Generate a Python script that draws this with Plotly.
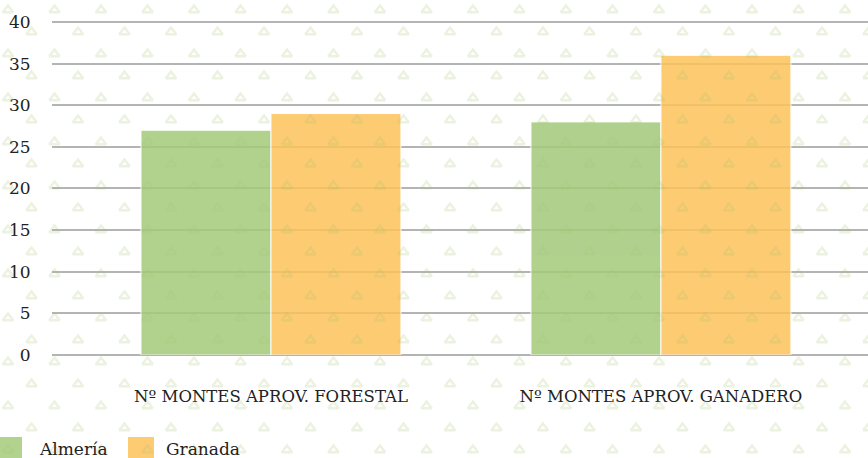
import plotly.graph_objects as go
import numpy as np

# ---- data ----
categories = ["Nº MONTES APROV. FORESTAL", "Nº MONTES APROV. GANADERO"]
series_names = ["Almería", "Granada"]
almeria = [27, 28]
granada = [29, 36]
y_ticks = [0, 5, 10, 15, 20, 25, 30, 35, 40]

colors = ["rgb(164,203,121)", "rgb(253,194,89)"]
bar_opacity = 0.85
FONT = "DejaVu Serif"
W, H = 868, 458

fig = go.Figure()

# bars (main subplot)
for name, vals, col in zip(series_names, [almeria, granada], colors):
    fig.add_trace(go.Bar(
        x=categories, y=vals, name=name,
        marker=dict(color=col, line=dict(color="white", width=1)),
        opacity=bar_opacity, xaxis="x", yaxis="y", showlegend=False,
    ))

# decorative background pattern (texture, drawn in pixel space on top)
px, py = [], []
for r in range(22):
    yy = 10 + 22 * r
    off = 8 if r % 2 == 0 else 31.5
    for k in range(-1, 20):
        px.append(off + 46.5 * k)
        py.append(yy)
fig.add_trace(go.Scatter(
    x=px, y=py, mode="markers", xaxis="x2", yaxis="y2",
    marker=dict(symbol="triangle-up-open", size=9,
                color="rgba(165,198,115,0.22)", line=dict(width=2.4)),
    hoverinfo="skip", showlegend=False,
))

# legend (custom large swatches)
leg_x = [-4, 128]
text_x = [37, 164]
for name, col, x0, tx in zip(series_names, colors, leg_x, text_x):
    fig.add_shape(type="rect", xref="paper", yref="paper",
                  x0=x0 / W, x1=(x0 + 26) / W, y0=(H - 463) / H, y1=(H - 437) / H,
                  fillcolor=col, opacity=bar_opacity, line=dict(width=0), layer="below")
    fig.add_annotation(text=name, xref="paper", yref="paper",
                       x=tx / W, y=(H - 449) / H, xanchor="left", yanchor="middle",
                       showarrow=False, font=dict(family=FONT, size=17, color="#222"))

x_left = 52
y0_px, ppu = 355, 8.325
y_top = 40.5
fig.update_layout(
    width=W, height=H,
    margin=dict(l=0, r=0, t=0, b=0, autoexpand=False),
    paper_bgcolor="white", plot_bgcolor="rgba(0,0,0,0)",
    barmode="group", bargap=1 / 3, bargroupgap=0,
    font=dict(family=FONT, size=17, color="#222"),
    xaxis=dict(domain=[x_left / W, 1], range=[-0.5615, 1.531], anchor="y",
               automargin=False,
               showgrid=False, showline=False, zeroline=False,
               ticks="outside", ticklen=26, tickcolor="rgba(0,0,0,0)",
               tickfont=dict(family=FONT, size=16.5, color="#222")),
    yaxis=dict(domain=[1 - y0_px / H, 1 - (y0_px - y_top * ppu) / H], range=[0, y_top],
               anchor="x", automargin=False,
               tickvals=y_ticks, showgrid=True, gridcolor="#b4b4b4", gridwidth=2,
               zeroline=True, zerolinecolor="#b4b4b4", zerolinewidth=2,
               showline=False, ticks="outside", ticklen=17, tickcolor="rgba(0,0,0,0)",
               tickfont=dict(family=FONT, size=17, color="#222")),
    xaxis2=dict(domain=[0, 1], range=[0, W], anchor="y2", visible=False, fixedrange=True,
                automargin=False),
    yaxis2=dict(domain=[0, 1], range=[H, 0], anchor="x2", visible=False, fixedrange=True,
                automargin=False),
    hovermode=False,
)

fig.write_html("out.html", config={"displayModeBar": False},
               post_script="document.body.style.margin='0';document.body.style.overflow='hidden';")
